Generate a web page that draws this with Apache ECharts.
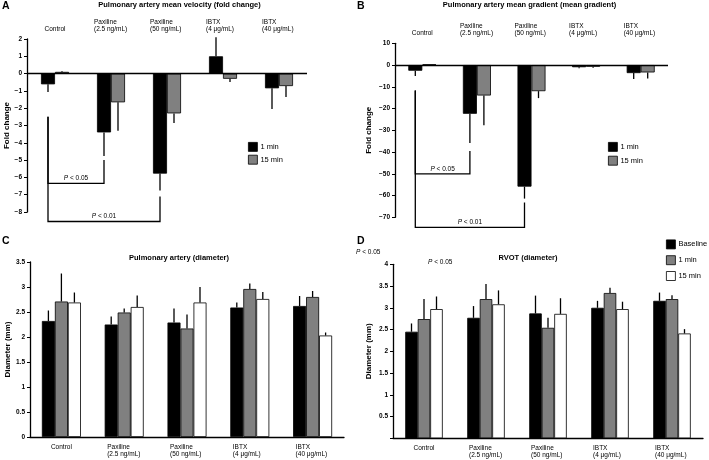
<!DOCTYPE html>
<html><head><meta charset="utf-8">
<script src="https://cdn.jsdelivr.net/npm/echarts@6/dist/echarts.min.js"></script>
<style>html,body{margin:0;padding:0;background:#fff}#c{width:709px;height:460px}</style>
</head><body><div id="c"></div>
<script>
// ---------- data ----------
const categories = ['Control', 'Paxiline\n(2.5 ng/mL)', 'Paxiline\n(50 ng/mL)', 'IBTX\n(4 μg/mL)', 'IBTX\n(40 μg/mL)'];

// Panel A: pulmonary artery mean velocity (fold change)
const velocityAxis = [-8, 2, 1];           // min, max, interval
const velocity1min = [-0.62, -3.4, -5.78, 1.0, -0.85];
const velocity1minErr = [-1.07, -4.77, -6.75, 2.1, -2.05];
const velocity15min = [0.1, -1.66, -2.3, -0.3, -0.72];
const velocity15minErr = [0.15, -3.3, -2.85, -0.48, -1.35];
// [fromCategory, toCategory, bracketLevel, fromStart, toStart, label]
const velocityBrackets = [
  [0, 1, -6.35, -2.5, -5.0, 'P < 0.05'],
  [0, 2, -8.55, -2.5, -7.1, 'P < 0.01']
];

// Panel B: pulmonary artery mean gradient
const gradientAxis = [-70, 10, 10];
const gradient1min = [-2.6, -22.4, -55.9, -1.0, -3.7];
const gradient1minErr = [-5.0, -35.8, -61.4, -1.5, -6.4];
const gradient15min = [0.3, -14.0, -12.0, -0.8, -3.4];
const gradient15minErr = [0.3, -27.7, -15.2, -1.2, -6.2];
const gradientBrackets = [
  [0, 1, -50, -11.7, -39.5, 'P < 0.05'],
  [0, 2, -74.6, -11.7, -63.2, 'P < 0.01']
];

// Panel C: pulmonary artery diameter (mm)
const paAxis = [0, 3.5, 0.5];
const paBaseline = [2.32, 2.25, 2.29, 2.59, 2.62];
const paBaselineErr = [2.53, 2.41, 2.57, 2.69, 2.82];
const pa1min = [2.71, 2.49, 2.17, 2.96, 2.8];
const pa1minErr = [3.27, 2.57, 2.45, 3.07, 2.92];
const pa15min = [2.69, 2.6, 2.69, 2.76, 2.03];
const pa15minErr = [2.89, 2.83, 3.0, 2.9, 2.09];

// Panel D: RVOT diameter (mm)
const rvotAxis = [0, 4, 0.5];
const rvBaseline = [2.45, 2.77, 2.87, 3.0, 3.16];
const rvBaselineErr = [2.64, 3.04, 3.28, 3.16, 3.35];
const rv1min = [2.74, 3.2, 2.54, 3.34, 3.2];
const rv1minErr = [3.2, 3.55, 2.77, 3.46, 3.29];
const rv15min = [2.97, 3.08, 2.86, 2.97, 2.41];
const rv15minErr = [3.26, 3.4, 3.22, 3.14, 2.51];

// ---------- styles ----------
const FONT = '"Liberation Sans", Arial, Helvetica, sans-serif';
const BLACK = '#000000', GRAY = '#808080', WHITE = '#ffffff';

const chart = echarts.init(document.getElementById('c'), null, {renderer: 'canvas'});

function minus(v) { return String(v).replace('-', '\u2212'); }

function catAxis(gridIndex, position, opts) {
  return Object.assign({
    gridIndex, type: 'category', data: categories, position,
    axisLine: {show: false}, axisTick: {show: false},
    axisLabel: {
      margin: 6, color: BLACK, fontFamily: FONT, fontSize: 6.5, lineHeight: 7.5, interval: 0,
      formatter: v => v.indexOf('\n') < 0 ? '{c|' + v + '}' : v.split('\n').map(s => '{l|' + s + '}').join('\n'),
      rich: {
        c: {fontFamily: FONT, fontSize: 6.5, lineHeight: 7.5, color: BLACK},
        l: {fontFamily: FONT, fontSize: 6.5, lineHeight: 7.5, color: BLACK, width: 34, align: 'left'}
      }
    }
  }, opts || {});
}

function valAxis(gridIndex, ax, name, nameGap, hideZero) {
  return {
    gridIndex, type: 'value', min: ax[0], max: ax[1], interval: ax[2],
    axisLine: {show: true, onZero: false, lineStyle: {color: BLACK, width: 1.3}},
    axisTick: {show: true, length: 3, lineStyle: {color: BLACK, width: 1}},
    splitLine: {show: false},
    axisLabel: {
      margin: 5, color: BLACK, fontFamily: FONT, fontSize: 6.5, fontWeight: 'bold',
      formatter: v => (hideZero && v === 0) ? '' : minus(v)
    },
    name, nameLocation: 'middle', nameGap,
    nameTextStyle: {color: BLACK, fontFamily: FONT, fontSize: 8, fontWeight: 'bold'}
  };
}

function bar(name, gi, data, color, bw, zeroLine) {
  const s = {
    type: 'bar', name, xAxisIndex: gi, yAxisIndex: gi, data, barWidth: bw, barGap: '0%',
    itemStyle: {color, borderColor: BLACK, borderWidth: 0.8}, silent: true
  };
  if (zeroLine) {
    s.markLine = {silent: true, symbol: 'none', label: {show: false},
      lineStyle: {color: BLACK, width: 1.3, type: 'solid'}, data: [{yAxis: 0}]};
  }
  return s;
}

function errors(gi, vals, errs, offset) {
  return {
    type: 'custom', xAxisIndex: gi, yAxisIndex: gi, silent: true, clip: false, z: 5,
    data: vals.map((v, i) => [i, v, errs[i]]),
    renderItem(params, api) {
      const a = api.coord([api.value(0), api.value(1)]);
      const b = api.coord([api.value(0), api.value(2)]);
      return {type: 'line', shape: {x1: a[0] + offset, y1: a[1], x2: b[0] + offset, y2: b[1]},
        style: {stroke: BLACK, lineWidth: 1.3}};
    }
  };
}

function brackets(gi, list, offset) {
  return {
    type: 'custom', xAxisIndex: gi, yAxisIndex: gi, silent: true, clip: false, z: 6,
    data: list.map(b => b.slice(0, 5)),
    renderItem(params, api) {
      const item = list[params.dataIndex];
      const p1 = api.coord([api.value(0), api.value(3)]);
      const l1 = api.coord([api.value(0), api.value(2)]);
      const l2 = api.coord([api.value(1), api.value(2)]);
      const p2 = api.coord([api.value(1), api.value(4)]);
      const x1 = p1[0] + offset, x2 = p2[0] + offset;
      const txt = item[5].replace('P', '{i|P}');
      return {type: 'group', children: [
        {type: 'polyline', shape: {points: [[x1, p1[1]], [x1, l1[1]], [x2, l2[1]], [x2, p2[1]]]},
          style: {stroke: BLACK, lineWidth: 1.3, fill: null}},
        {type: 'text', x: (x1 + x2) / 2, y: l1[1] - 1.5,
          style: {text: txt, fill: BLACK, font: '6.5px ' + FONT, textAlign: 'center', textVerticalAlign: 'bottom',
            rich: {i: {fontStyle: 'italic', fontFamily: FONT, fontSize: 6.5, fill: BLACK}}}}
      ]};
    }
  };
}

function txt(text, x, y, size, weight, align, italicP) {
  const style = {text, fill: BLACK, font: (weight || 'normal') + ' ' + size + 'px ' + FONT,
    textAlign: align || 'center', textVerticalAlign: 'middle'};
  if (italicP) {
    style.text = text.replace('P', '{i|P}');
    style.rich = {i: {fontStyle: 'italic', fontFamily: FONT, fontSize: size, fill: BLACK}};
  }
  return {type: 'text', x, y, silent: true, style};
}

const legendBase = {
  orient: 'vertical', icon: 'rect', itemWidth: 9, itemHeight: 9, padding: 0,
  textStyle: {color: BLACK, fontFamily: FONT, fontSize: 7.5, padding: [0, 0, 0, -2]},
  selectedMode: false
};
function legendItem(name, color) {
  return {name, itemStyle: {color, borderColor: BLACK, borderWidth: 0.8}};
}

const BW_A = 14, BW_B = 14, BW_C = 13, BW_D = 12.5;

const option = {
  animation: false,
  backgroundColor: '#fff',
  grid: [
    {left: 27, top: 39, width: 280, height: 173},
    {left: 395, top: 43.3, width: 273, height: 174},
    {left: 30, top: 262, width: 314, height: 175},
    {left: 393, top: 264.3, width: 310, height: 174}
  ],
  xAxis: [
    catAxis(0, 'top'),
    catAxis(1, 'top'),
    catAxis(2, 'bottom', {axisLine: {show: true, lineStyle: {color: BLACK, width: 1.3}}}),
    catAxis(3, 'bottom', {axisLine: {show: true, lineStyle: {color: BLACK, width: 1.3}}})
  ],
  yAxis: [
    valAxis(0, velocityAxis, 'Fold change', 11),
    valAxis(1, gradientAxis, 'Fold change', 22),
    valAxis(2, paAxis, 'Diameter (mm)', 14),
    valAxis(3, rvotAxis, 'Diameter (mm)', 20, true)
  ],
  legend: [
    Object.assign({}, legendBase, {left: 248, top: 142, itemGap: 3,
      data: [legendItem('1 min', BLACK), legendItem('15 min', GRAY)]}),
    Object.assign({}, legendBase, {left: 608, top: 142, itemGap: 4,
      data: [legendItem('1 min', BLACK), legendItem('15 min', GRAY)]}),
    Object.assign({}, legendBase, {left: 666, top: 239.5, itemGap: 6,
      data: [legendItem('Baseline', BLACK), legendItem('1 min', GRAY), legendItem('15 min', WHITE)]})
  ],
  graphic: [
    txt('A', 2, 6.5, 10.5, 'bold', 'left'),
    txt('B', 357, 6.5, 10.5, 'bold', 'left'),
    txt('C', 2, 241, 10.5, 'bold', 'left'),
    txt('D', 357, 241, 10.5, 'bold', 'left'),
    txt('Pulmonary artery mean velocity (fold change)', 179.5, 4.5, 7.5, 'bold'),
    txt('Pulmonary artery mean gradient (mean gradient)', 529.5, 4.5, 7.5, 'bold'),
    txt('Pulmonary artery (diameter)', 179, 257.7, 7.5, 'bold'),
    txt('RVOT (diameter)', 528, 257.7, 7.5, 'bold'),
    txt('P < 0.05', 356, 252, 6.5, 'normal', 'left', true),
    txt('P < 0.05', 428, 262, 6.5, 'normal', 'left', true)
  ],
  series: [
    bar('1 min', 0, velocity1min, BLACK, BW_A, true),
    bar('15 min', 0, velocity15min, GRAY, BW_A),
    errors(0, velocity1min, velocity1minErr, -BW_A / 2),
    errors(0, velocity15min, velocity15minErr, BW_A / 2),
    brackets(0, velocityBrackets, -BW_A / 2),

    bar('1 min', 1, gradient1min, BLACK, BW_B, true),
    bar('15 min', 1, gradient15min, GRAY, BW_B),
    errors(1, gradient1min, gradient1minErr, -BW_B / 2),
    errors(1, gradient15min, gradient15minErr, BW_B / 2),
    brackets(1, gradientBrackets, -BW_B / 2),

    bar('Baseline', 2, paBaseline, BLACK, BW_C),
    bar('1 min', 2, pa1min, GRAY, BW_C),
    bar('15 min', 2, pa15min, WHITE, BW_C),
    errors(2, paBaseline, paBaselineErr, -BW_C),
    errors(2, pa1min, pa1minErr, 0),
    errors(2, pa15min, pa15minErr, BW_C),

    bar('Baseline', 3, rvBaseline, BLACK, BW_D),
    bar('1 min', 3, rv1min, GRAY, BW_D),
    bar('15 min', 3, rv15min, WHITE, BW_D),
    errors(3, rvBaseline, rvBaselineErr, -BW_D),
    errors(3, rv1min, rv1minErr, 0),
    errors(3, rv15min, rv15minErr, BW_D)
  ]
};
chart.setOption(option);
</script>
</body></html>
